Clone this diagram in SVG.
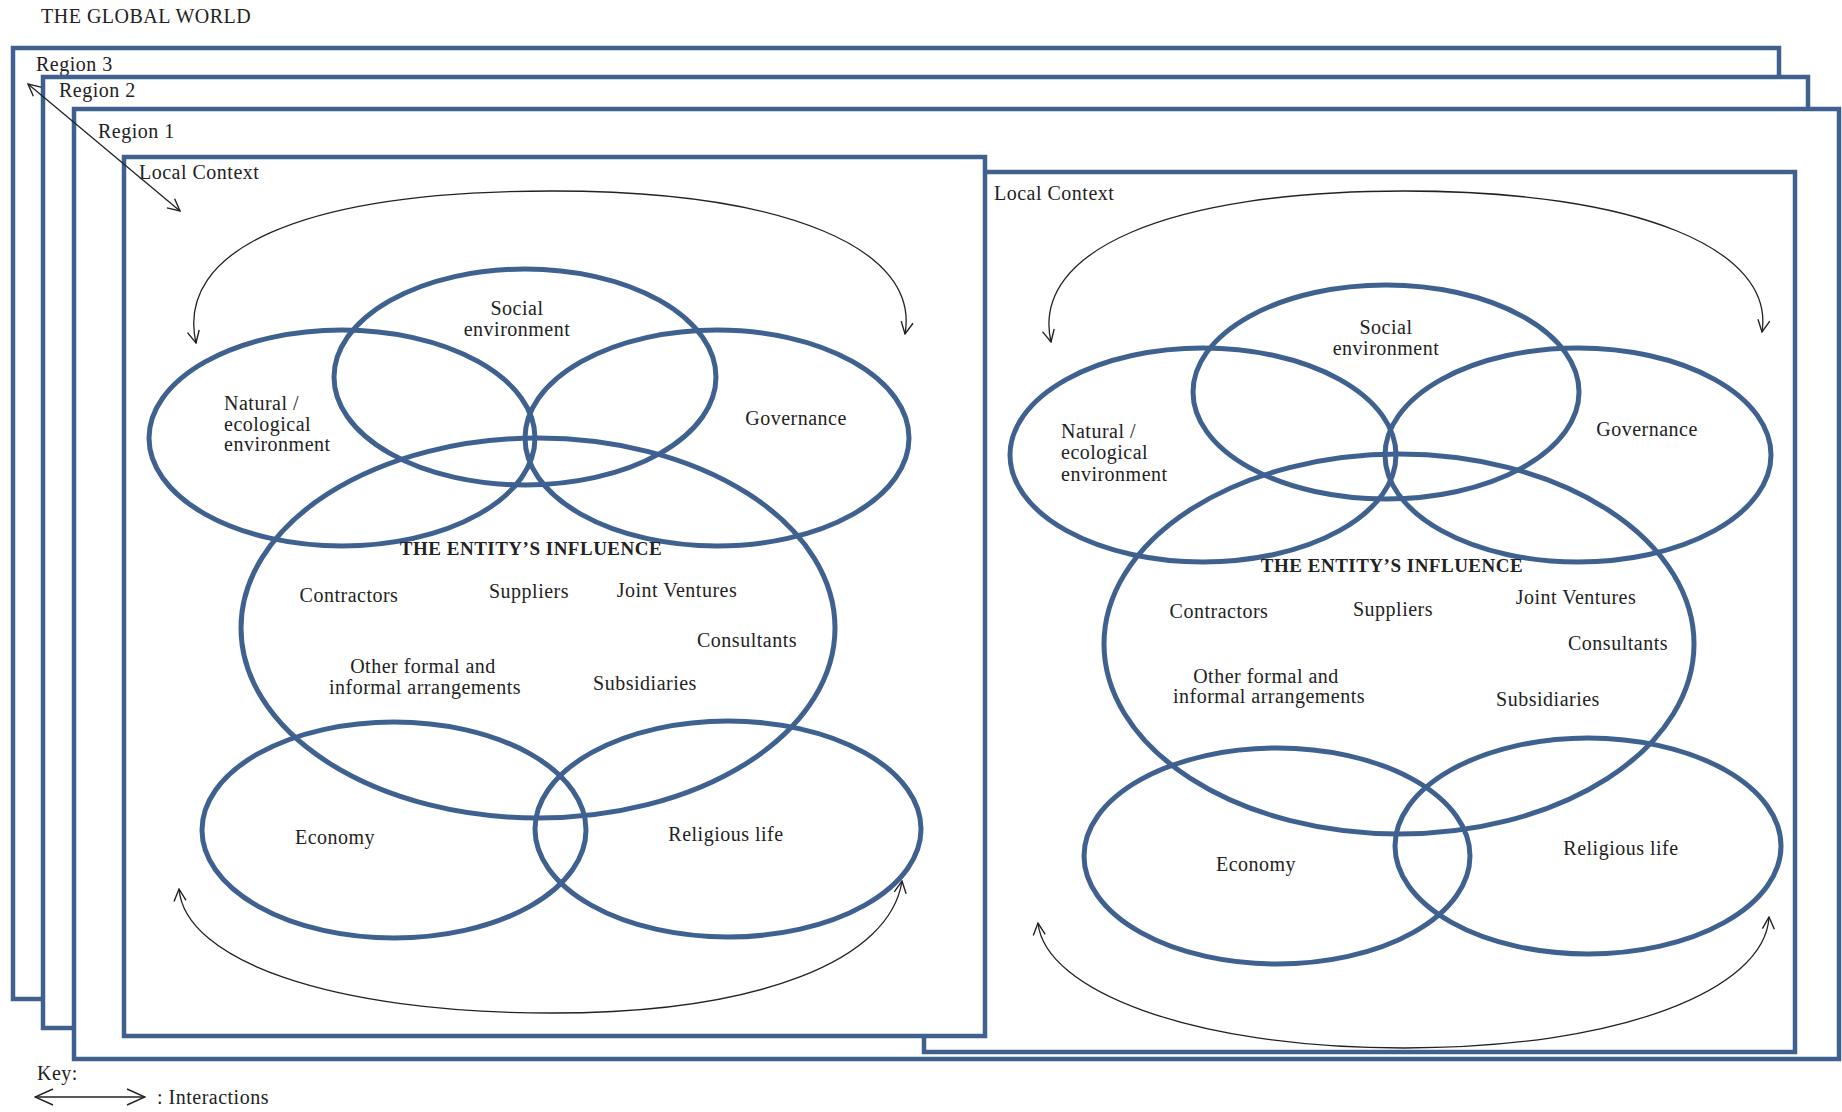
<svg xmlns="http://www.w3.org/2000/svg" width="1842" height="1112" viewBox="0 0 1842 1112">
<style>
.frame{fill:#ffffff;stroke:#3f6190;stroke-width:4.5}
.ell{fill:none;stroke:#3f6190;stroke-width:5}
.t{font-family:"Liberation Serif","Times New Roman",serif;font-size:20px;letter-spacing:0.5px;fill:#222}
.c{text-anchor:middle}
.b{font-weight:bold;font-size:19px}
.arc{fill:none;stroke:#222;stroke-width:1.3;marker-start:url(#ah);marker-end:url(#ah)}
.keyarc{fill:none;stroke:#222;stroke-width:1.3;marker-start:url(#ahk);marker-end:url(#ahk)}
</style>
<defs>
<marker id="ah" viewBox="0 0 14 14" refX="13" refY="7" markerWidth="14" markerHeight="14" markerUnits="userSpaceOnUse" orient="auto-start-reverse">
<path d="M1,1 L13,7 L1,13" fill="none" stroke="#222" stroke-width="1.4"/>
</marker>
<marker id="ahk" viewBox="0 0 20 20" refX="19" refY="10" markerWidth="20" markerHeight="20" markerUnits="userSpaceOnUse" orient="auto-start-reverse">
<path d="M1,2 L19,10 L1,18" fill="none" stroke="#222" stroke-width="1.4"/>
</marker>
</defs>
<rect width="1842" height="1112" fill="#ffffff"/>
<text class="t" x="41" y="23">THE GLOBAL WORLD</text>

<g id="region3"><rect class="frame" x="13" y="48" width="1766" height="951"/><text class="t" x="36" y="71">Region 3</text></g>
<g id="region2"><rect class="frame" x="43" y="77" width="1765" height="951"/><text class="t" x="59" y="97">Region 2</text></g>
<g id="region1"><rect class="frame" x="74" y="109" width="1765" height="950"/><text class="t" x="98" y="138">Region 1</text></g>

<g id="local-context-right">
<rect class="frame" x="924" y="172" width="871" height="880"/>
<text class="t" x="994" y="200">Local Context</text>
<g id="r-social"><ellipse class="ell" cx="1386" cy="392" rx="193" ry="107"/><text class="t c" x="1386" y="334">Social</text><text class="t c" x="1386" y="355">environment</text></g>
<g id="r-natural"><ellipse class="ell" cx="1203" cy="455" rx="193" ry="107"/><text class="t" x="1061" y="438">Natural /</text><text class="t" x="1061" y="459">ecological</text><text class="t" x="1061" y="481">environment</text></g>
<g id="r-governance"><ellipse class="ell" cx="1578" cy="455" rx="193" ry="107"/><text class="t c" x="1647" y="436">Governance</text></g>
<g id="r-entity"><ellipse class="ell" cx="1399" cy="644" rx="295" ry="190"/>
<text class="t c b" x="1392" y="572">THE ENTITY’S INFLUENCE</text>
<text class="t c" x="1219" y="618">Contractors</text>
<text class="t c" x="1393" y="616">Suppliers</text>
<text class="t c" x="1576" y="604">Joint Ventures</text>
<text class="t c" x="1618" y="650">Consultants</text>
<text class="t c" x="1266" y="683">Other formal and</text>
<text class="t c" x="1269" y="703">informal arrangements</text>
<text class="t c" x="1548" y="706">Subsidiaries</text>
</g>
<g id="r-economy"><ellipse class="ell" cx="1277" cy="856" rx="193" ry="108"/><text class="t c" x="1256" y="871">Economy</text></g>
<g id="r-religious"><ellipse class="ell" cx="1588" cy="846" rx="193" ry="108"/><text class="t c" x="1621" y="855">Religious life</text></g>
</g>

<g id="local-context-left">
<rect class="frame" x="124" y="157" width="861" height="879"/>
<text class="t" x="139" y="179">Local Context</text>
<g id="l-social"><ellipse class="ell" cx="525" cy="377" rx="191" ry="108"/><text class="t c" x="517" y="315">Social</text><text class="t c" x="517" y="336">environment</text></g>
<g id="l-natural"><ellipse class="ell" cx="342" cy="438" rx="193" ry="108"/><text class="t" x="224" y="410">Natural /</text><text class="t" x="224" y="431">ecological</text><text class="t" x="224" y="451">environment</text></g>
<g id="l-governance"><ellipse class="ell" cx="717" cy="438" rx="192" ry="108"/><text class="t c" x="796" y="425">Governance</text></g>
<g id="l-entity"><ellipse class="ell" cx="538" cy="628" rx="297" ry="190"/>
<text class="t c b" x="531" y="555">THE ENTITY’S INFLUENCE</text>
<text class="t c" x="349" y="602">Contractors</text>
<text class="t c" x="529" y="598">Suppliers</text>
<text class="t c" x="677" y="597">Joint Ventures</text>
<text class="t c" x="747" y="647">Consultants</text>
<text class="t c" x="423" y="673">Other formal and</text>
<text class="t c" x="425" y="694">informal arrangements</text>
<text class="t c" x="645" y="690">Subsidiaries</text>
</g>
<g id="l-economy"><ellipse class="ell" cx="394" cy="830" rx="192" ry="108"/><text class="t c" x="335" y="844">Economy</text></g>
<g id="l-religious"><ellipse class="ell" cx="728" cy="829" rx="193" ry="108"/><text class="t c" x="726" y="841">Religious life</text></g>
</g>

<g id="connectors">
<path class="arc" d="M28,84 L180,211"/>
<path class="arc" d="M196,343 C175,250 300,191 552,191 C790,191 920,250 905,334"/>
<path class="arc" d="M179,889 C185,960 330,1013 552,1013 C760,1013 890,960 902,881"/>
<path class="arc" d="M1051,342 C1030,250 1170,191 1404,191 C1640,191 1775,250 1762,332"/>
<path class="arc" d="M1038,923 C1045,990 1190,1048 1404,1048 C1620,1048 1765,990 1769,917"/>
<path class="keyarc" d="M35,1097 L145,1097"/>
</g>

<g id="key">
<text class="t" x="37" y="1080">Key:</text>
<text class="t" x="157" y="1104">: Interactions</text>
</g>
</svg>
